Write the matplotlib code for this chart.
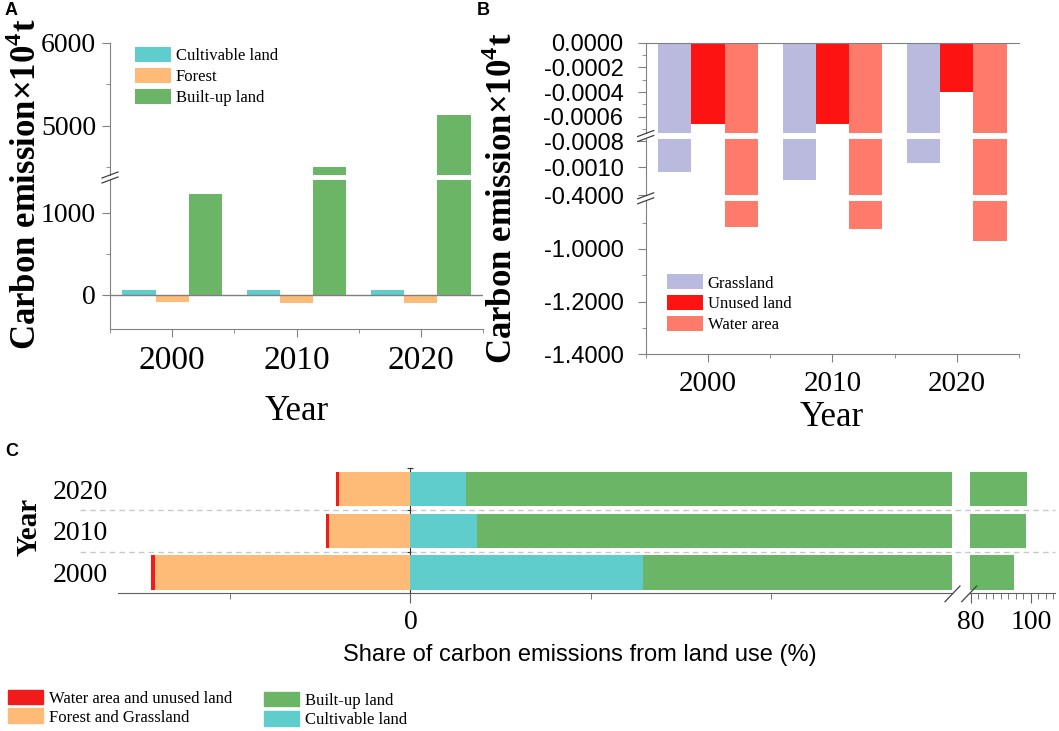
import numpy as np
import matplotlib
matplotlib.use("Agg")
import matplotlib.pyplot as plt
import matplotlib.transforms as mtransforms
from matplotlib.lines import Line2D
from matplotlib.patches import Patch
from matplotlib.ticker import FixedLocator

W, H = 1059, 731
SERIF = "Liberation Serif"
SANS = "Liberation Sans"
plt.rcParams["font.family"] = SERIF
plt.rcParams["mathtext.fontset"] = "custom"
plt.rcParams["mathtext.rm"] = SERIF
plt.rcParams["mathtext.bf"] = SERIF + ":bold"

years = ["2000", "2010", "2020"]

# panel A, carbon emission (10^4 t)
cultivable = [65, 60, 60]
forest = [-85, -95, -95]
built_up = [1235, 4500, 5130]

# panel B, carbon emission (10^4 t)
grassland = [-0.00104, -0.00110, -0.00097]
unused = [-0.00066, -0.00066, -0.00040]
water = [-0.918, -0.923, -0.971]

# panel C, share of emissions (%)
c_water_unused = [0.11, 0.08, 0.08]
c_forest_grass = [7.07, 2.25, 1.98]
c_cultivable = [6.45, 1.83, 1.55]
c_built_up = [88.05, 96.57, 97.15]

COL_CULT = "#5ecdcb"
COL_FOREST = "#febb78"
COL_BUILT = "#6ab566"
COL_GRASS = "#babadf"
COL_UNUSED = "#fe1313"
COL_WATER = "#fe7b6b"
COL_RED_C = "#f21b1b"
SPINE = "#808080"

fig = plt.figure(figsize=(W / 100, H / 100), dpi=100)


def px_axes(x0, y0, x1, y1):
    # axes placed by pixel box (top-left origin)
    return fig.add_axes([x0 / W, 1 - y1 / H, (x1 - x0) / W, (y1 - y0) / H])


def px_line(x0, y0, x1, y1, color="#404040", lw=0.9):
    fig.add_artist(Line2D([x0 / W, x1 / W], [1 - y0 / H, 1 - y1 / H],
                          transform=fig.transFigure, color=color, lw=lw))


def break_marks(x, y, gap=5):
    for dy in (-gap / 2, gap / 2):
        px_line(x - 8, y + dy + 3, x + 8, y + dy - 3)


def style_y(ax, size, pad, family=SERIF):
    ax.spines["left"].set_color(SPINE)
    ax.tick_params(axis="y", which="major", colors=SPINE, labelcolor="black",
                   labelsize=size, length=6, pad=pad, labelfontfamily=family)
    ax.tick_params(axis="y", which="minor", colors=SPINE, length=3)


x = np.arange(len(years))
bw = 0.267

# ---------------- panel A ----------------
a_top = px_axes(110, 43, 483, 175)
a_bot = px_axes(110, 180, 483, 329)
for ax in (a_top, a_bot):
    ax.bar(x - bw, cultivable, bw, color=COL_CULT, label="Cultivable land")
    ax.bar(x, forest, bw, color=COL_FOREST, label="Forest")
    ax.bar(x + bw, built_up, bw, color=COL_BUILT, label="Built-up land")
    ax.set_xlim(-0.5, 2.5)
    ax.spines[["top", "right"]].set_visible(False)
    style_y(ax, 20, 4)

a_top.set_ylim(4400, 6000)
a_top.set_yticks([5000, 6000], ["5000", "6000"])
a_top.yaxis.set_minor_locator(FixedLocator([4500, 5500]))
a_top.spines["bottom"].set_visible(False)
a_top.tick_params(axis="x", which="both", bottom=False, labelbottom=False)

a_bot.set_ylim(-415, 1402)
a_bot.set_yticks([0, 1000], ["0", "1000"])
a_bot.yaxis.set_minor_locator(FixedLocator([500]))
a_bot.axhline(0, color=SPINE, lw=1)
a_bot.spines["bottom"].set_color(SPINE)
a_bot.set_xticks(x, years)
a_bot.xaxis.set_minor_locator(FixedLocator([-0.5, 0.5, 1.5, 2.5]))
a_bot.tick_params(axis="x", which="major", colors=SPINE, labelcolor="black",
                  labelsize=24, length=6, pad=6)
a_bot.tick_params(axis="x", which="minor", colors=SPINE, length=3)

a_top.legend(loc="upper left", bbox_to_anchor=(135 / W, 1 - 47 / H),
             bbox_transform=fig.transFigure, frameon=False, fontsize=12,
             handlelength=2.16, handleheight=1.0, labelspacing=0.22,
             handletextpad=0.3, borderpad=0, borderaxespad=0)
break_marks(110, 177.5)

fig.text(5 / W, 1 - 2 / H, "A", family=SANS, fontsize=13, fontweight="bold", va="top")
fig.text(27 / W, 1 - 184 / H, "Carbon emission×10$^{\\mathbf{4}}$t", rotation=90,
         fontsize=25, fontweight="bold", ha="center", va="center")
fig.text(297 / W, 1 - 411 / H, "Year", fontsize=25, ha="center", va="center")

# ---------------- panel B ----------------
b1 = px_axes(645.7, 42.7, 1019, 133.3)
b2 = px_axes(645.7, 138.7, 1019, 195.3)
b3 = px_axes(645.7, 201.3, 1019, 354.3)
for ax in (b1, b2, b3):
    ax.bar(x - bw, grassland, bw, color=COL_GRASS, label="Grassland")
    ax.bar(x, unused, bw, color=COL_UNUSED, label="Unused land")
    ax.bar(x + bw, water, bw, color=COL_WATER, label="Water area")
    ax.set_xlim(-0.5, 2.5)
    ax.spines[["right", "bottom"]].set_visible(False)
    ax.spines["top"].set_visible(False)
    style_y(ax, 17, 10, SANS)
    ax.tick_params(axis="x", which="both", bottom=False, labelbottom=False)

b1.spines["top"].set_visible(True)
b1.spines["top"].set_color(SPINE)
b1.set_ylim(-0.000735, 0)
b1.set_yticks([0, -0.0002, -0.0004, -0.0006],
              ["0.0000", "-0.0002", "-0.0004", "-0.0006"])
b1.yaxis.set_minor_locator(FixedLocator([-0.0001, -0.0003, -0.0005, -0.0007]))

b2.set_ylim(-0.00122, -0.00078)
b2.set_yticks([-0.0008, -0.0010, -0.00122], ["-0.0008", "-0.0010", "-0.4000"])

b3.set_ylim(-1.4, -0.819)
b3.set_yticks([-1.0, -1.2, -1.4], ["-1.0000", "-1.2000", "-1.4000"])
b3.yaxis.set_minor_locator(FixedLocator([-0.9, -1.1, -1.3]))
b3.spines["bottom"].set_visible(True)
b3.spines["bottom"].set_color(SPINE)
b3.set_xticks(x, years)
b3.xaxis.set_minor_locator(FixedLocator([-0.5, 0.5, 1.5, 2.5]))
b3.tick_params(axis="x", which="major", bottom=True, labelbottom=True, colors=SPINE,
               labelcolor="black", labelsize=21, length=6, pad=6)
b3.tick_params(axis="x", which="minor", bottom=True, colors=SPINE, length=3)

b3.legend(loc="upper left", bbox_to_anchor=(666.7 / W, 1 - 274.5 / H),
          bbox_transform=fig.transFigure, frameon=False, fontsize=12,
          handlelength=2.16, handleheight=1.0, labelspacing=0.22,
          handletextpad=0.3, borderpad=0, borderaxespad=0)
break_marks(645.7, 136)
break_marks(645.7, 198.3)

fig.text(477 / W, 1 - 2 / H, "B", family=SANS, fontsize=13, fontweight="bold", va="top")
fig.text(503 / W, 1 - 198 / H, "Carbon emission×10$^{\\mathbf{4}}$t", rotation=90,
         fontsize=25, fontweight="bold", ha="center", va="center")
fig.text(832 / W, 1 - 417 / H, "Year", fontsize=25, ha="center", va="center")

# ---------------- panel C ----------------
y = np.arange(len(years))
bh = 0.82
c_left = px_axes(118, 468.3, 952, 593.3)
c_right = px_axes(970, 468.3, 1055, 593.3)
neg_fg = [-v for v in c_forest_grass]
neg_wu = [-v for v in c_water_unused]
for ax in (c_left, c_right):
    ax.barh(y, neg_fg, bh, color=COL_FOREST)
    ax.barh(y, neg_wu, bh, left=neg_fg, color=COL_RED_C)
    ax.barh(y, c_cultivable, bh, color=COL_CULT)
    ax.barh(y, c_built_up, bh, left=c_cultivable, color=COL_BUILT)
    ax.set_ylim(-0.5, 2.5)
    ax.spines[["top", "right", "left"]].set_visible(False)
    ax.spines["bottom"].set_color("#606060")
    ax.tick_params(axis="x", which="major", colors="#606060", labelcolor="black",
                   labelsize=20, length=7, pad=5)
    ax.tick_params(axis="x", which="minor", colors="#606060", length=4)

c_left.set_xlim(-8.1, 15.0)
c_left.set_xticks([0], ["0"])
c_left.xaxis.set_minor_locator(FixedLocator([-5, 5, 10]))
c_left.set_yticks(y, years)
c_left.tick_params(axis="y", length=0, labelsize=20, pad=7)

c_right.set_xlim(79.7, 108)
c_right.set_xticks([80, 100], ["80", "100"])
c_right.xaxis.set_minor_locator(FixedLocator(np.arange(82.5, 108, 2.5)))
c_right.tick_params(axis="y", left=False, labelleft=False)

# zero line with category separators
zero_frac = (0 - (-8.1)) / (15.0 + 8.1)
sec = c_left.secondary_yaxis(zero_frac)
sec.set_yticks([0.5, 1.5, 2.5])
sec.tick_params(direction="inout", length=5, color="#333333",
                labelleft=False, labelright=False)
for s in sec.spines.values():
    s.set_color("#333333")

grid_tr = mtransforms.blended_transform_factory(fig.transFigure, c_left.transData)
for yb in (0.5, 1.5):
    fig.add_artist(Line2D([80 / W, 1055 / W], [yb, yb], transform=grid_tr,
                          color="#c8c8c8", lw=1, ls=(0, (4, 3))))

px_line(945, 601.7, 960, 586)
px_line(961.7, 601.7, 976.7, 586)

fig.text(5 / W, 1 - 443 / H, "C", family=SANS, fontsize=13, fontweight="bold", va="top")
fig.text(29 / W, 1 - 527 / H, "Year", rotation=90, fontsize=21, fontweight="bold",
         ha="center", va="center")
fig.text(580 / W, 1 - 655 / H, "Share of carbon emissions from land use (%)",
         family=SANS, fontsize=17, ha="center", va="center")

leg1 = [Patch(color=COL_RED_C, label="Water area and unused land"),
        Patch(color=COL_FOREST, label="Forest and Grassland")]
leg2 = [Patch(color=COL_BUILT, label="Built-up land"),
        Patch(color=COL_CULT, label="Cultivable land")]
fig.legend(handles=leg1, loc="upper left", bbox_to_anchor=(8 / W, 1 - 689.5 / H),
           frameon=False, fontsize=12, handlelength=2.1, handleheight=1.0,
           labelspacing=0.1, handletextpad=0.35, borderpad=0, borderaxespad=0)
fig.legend(handles=leg2, loc="upper left", bbox_to_anchor=(264 / W, 1 - 691.5 / H),
           frameon=False, fontsize=12, handlelength=2.1, handleheight=1.0,
           labelspacing=0.15, handletextpad=0.35, borderpad=0, borderaxespad=0)

fig.savefig("out.png", dpi=100)
